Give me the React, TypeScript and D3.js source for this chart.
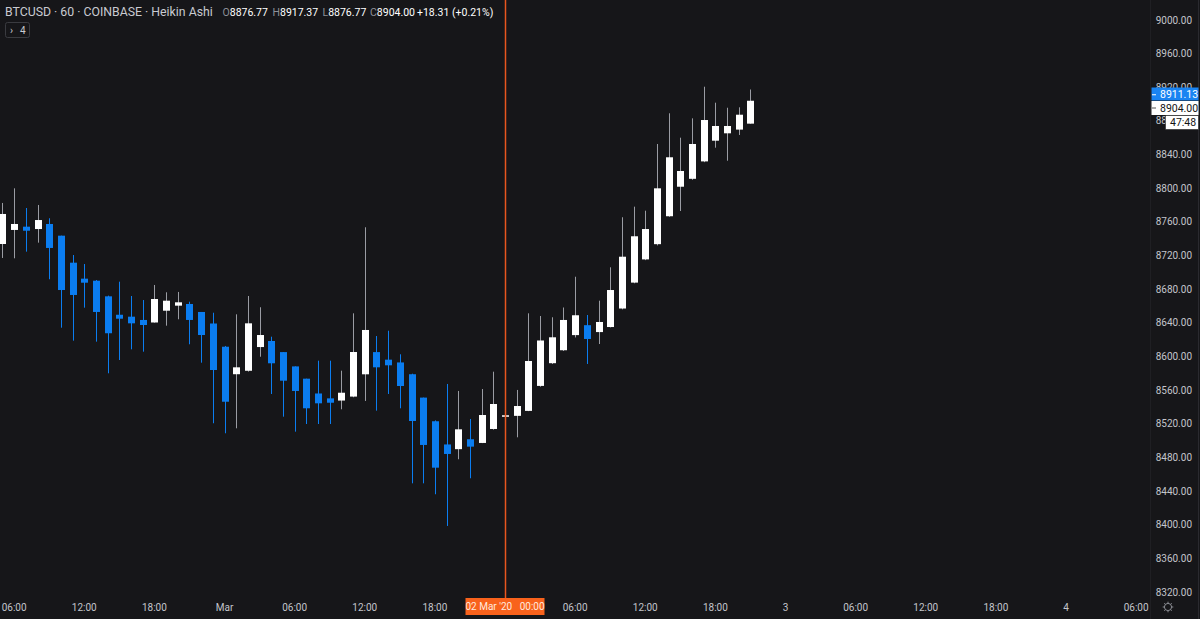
import React from "react";
import * as d3 from "d3";

const W = 1200;
const H = 619;

// Hourly Heikin Ashi candles, first candle = 29 Feb 2020 05:00 UTC
const firstCandle = Date.UTC(2020, 1, 29, 5);
const opens = [
  8733.7, 8750.4, 8754.3, 8751.5, 8757.5, 8743.6, 8711.5, 8692.5, 8690.1, 8671.5,
  8649.6, 8647.3, 8643.4, 8640.4, 8654.4, 8660.4, 8662.4, 8652.9, 8639.2, 8611.6,
  8578.9, 8583.0, 8611.2, 8618.4, 8605.2, 8588.2, 8573.6, 8556.0, 8550.2, 8547.6,
  8552.3, 8578.8, 8605.2, 8596.2, 8592.9, 8578.9, 8551.1, 8523.0, 8495.4, 8489.8,
  8501.6, 8497.2, 8513.8, 8528.6, 8529.4, 8535.3, 8565.0, 8592.0, 8607.4, 8625.4,
  8637.2, 8629.0, 8635.0, 8657.0, 8687.8, 8715.4, 8733.5, 8766.7, 8801.8, 8811.2,
  8831.9, 8856.5, 8865.3, 8869.7, 8876.77,
];
const highs = [
  8782.5, 8799.9, 8776.5, 8780.1, 8764.3, 8743.6, 8720.6, 8709.9, 8690.9, 8672.3,
  8688.9, 8671.9, 8667.1, 8685.0, 8676.3, 8676.7, 8665.1, 8652.9, 8652.0, 8612.5,
  8650.1, 8671.9, 8658.5, 8623.5, 8605.2, 8588.2, 8573.6, 8595.0, 8595.0, 8583.1,
  8651.3, 8753.6, 8624.3, 8630.6, 8602.6, 8579.5, 8551.1, 8524.0, 8567.3, 8559.0,
  8525.7, 8561.3, 8581.9, 8562.2, 8560.2, 8651.3, 8648.1, 8646.6, 8658.2, 8694.8,
  8649.3, 8666.3, 8706.0, 8765.5, 8778.1, 8773.3, 8852.6, 8889.1, 8860.1, 8883.1,
  8920.7, 8901.7, 8895.7, 8896.2, 8917.37,
];
const lows = [
  8717.1, 8716.7, 8724.6, 8735.3, 8691.8, 8634.2, 8618.8, 8658.0, 8617.6, 8580.0,
  8595.8, 8608.5, 8605.7, 8640.2, 8636.6, 8644.2, 8614.5, 8592.6, 8520.6, 8508.7,
  8514.6, 8582.0, 8599.7, 8555.4, 8528.4, 8510.6, 8519.7, 8519.7, 8519.7, 8537.2,
  8551.5, 8547.1, 8535.6, 8555.4, 8538.4, 8449.2, 8449.2, 8436.2, 8398.5, 8477.8,
  8455.2, 8497.0, 8513.0, 8488.0, 8503.9, 8535.0, 8564.0, 8591.0, 8606.5, 8622.6,
  8591.1, 8614.8, 8634.5, 8656.0, 8687.0, 8714.5, 8732.0, 8766.0, 8772.9, 8810.0,
  8831.0, 8848.2, 8832.7, 8863.3, 8876.77,
];
const closes = [
  8769.4, 8757.5, 8749.5, 8762.2, 8729.0, 8679.0, 8673.1, 8687.7, 8652.9, 8627.6,
  8644.9, 8639.4, 8637.4, 8668.3, 8666.3, 8664.4, 8643.4, 8625.5, 8583.9, 8546.2,
  8587.1, 8639.4, 8625.5, 8591.9, 8571.2, 8559.0, 8538.4, 8544.3, 8545.0, 8556.9,
  8605.3, 8631.5, 8587.1, 8589.5, 8564.9, 8523.3, 8494.8, 8467.8, 8484.1, 8513.4,
  8492.8, 8530.4, 8543.5, 8530.1, 8541.1, 8594.6, 8619.0, 8622.8, 8643.4, 8649.0,
  8620.8, 8641.0, 8679.0, 8718.6, 8742.9, 8751.5, 8799.9, 8836.8, 8820.5, 8852.6,
  8881.1, 8874.0, 8874.0, 8887.4, 8904.0,
];

const priceTicks = [8320, 8360, 8400, 8440, 8480, 8520, 8560, 8600, 8640, 8680, 8720, 8760, 8800, 8840, 8880, 8920, 8960, 9000];
const timeTicks = [
  "2020-02-29T06:00Z", "2020-02-29T12:00Z", "2020-02-29T18:00Z", "2020-03-01T00:00Z",
  "2020-03-01T06:00Z", "2020-03-01T12:00Z", "2020-03-01T18:00Z", "2020-03-02T00:00Z",
  "2020-03-02T06:00Z", "2020-03-02T12:00Z", "2020-03-02T18:00Z", "2020-03-03T00:00Z",
  "2020-03-03T06:00Z", "2020-03-03T12:00Z", "2020-03-03T18:00Z", "2020-03-04T00:00Z",
  "2020-03-04T06:00Z",
];
const timeTickLabels = ["06:00", "12:00", "18:00", "Mar", "06:00", "12:00", "18:00", "2", "06:00", "12:00", "18:00", "3", "06:00", "12:00", "18:00", "4", "06:00"];

const crosshairTime = "2020-03-02T00:00Z";
const crosshairLabel = "02 Mar '20   00:00";
const lastPrice = 8911.13;
const haClose = 8904.0;
const countdown = "47:48";
const headerTitle = "BTCUSD · 60 · COINBASE · Heikin Ashi";
const ohlcLabels = ["O", "H", "L", "C"];
const ohlcValues = ["8876.77", "8917.37", "8876.77", "8904.00"];
const changeText = "+18.31 (+0.21%)";

const BG = "#161619";
const UP = "#ffffff";
const UP_WICK = "#9a9ca3";
const DOWN = "#0b7df0";
const TEXT = "#c9cbd1";
const AXIS_TEXT = "#c3c5cb";
const CROSS = "#e8561f";
const FONT = "Roboto, 'Noto Sans', sans-serif";

export default function App() {
  const plotRight = 1150;
  const x = d3
    .scaleUtc()
    .domain([new Date(Date.UTC(2020, 2, 1)), new Date(Date.UTC(2020, 2, 2))])
    .range([224.5, 505]);
  const y = d3.scaleLinear().domain([8320, 9000]).range([592, 20]);

  const hour = 3600 * 1000;
  const candles = opens.map((o, i) => ({
    t: new Date(firstCandle + i * hour),
    o,
    h: highs[i],
    l: lows[i],
    c: closes[i],
  }));
  const bodyW = 7;
  const crossX = Math.round(x(new Date(crosshairTime))) + 0.5;
  const boxHalf = 40;

  const ohlcX = [222.5, 272.5, 322.5, 370];

  return (
    <svg width={W} height={H} style={{ display: "block", position: "absolute", left: 0, top: 0, background: BG }}>
      <rect x={0} y={0} width={W} height={H} fill={BG} />
      <defs>
        <clipPath id="plot">
          <rect x={0} y={0} width={plotRight} height={596} />
        </clipPath>
      </defs>

      {/* candles */}
      <g clipPath="url(#plot)">
        {candles.map((d, i) => {
          const cx = Math.round(x(d.t)) + 0.5;
          const up = d.c >= d.o;
          const top = y(Math.max(d.o, d.c));
          const bot = y(Math.min(d.o, d.c));
          return (
            <g key={i}>
              <line x1={cx} x2={cx} y1={y(d.h)} y2={y(d.l)} stroke={up ? UP_WICK : DOWN} strokeWidth={1} />
              <rect
                x={cx - bodyW / 2}
                y={top}
                width={bodyW}
                height={Math.max(1.5, bot - top)}
                fill={up ? UP : DOWN}
              />
            </g>
          );
        })}
      </g>

      {/* crosshair vertical */}
      <line x1={crossX} x2={crossX} y1={0} y2={598} stroke={CROSS} strokeWidth={1.5} />

      {/* price axis */}
      <line x1={plotRight + 0.5} x2={plotRight + 0.5} y1={0} y2={H} stroke="#1f1f23" />
      <line x1={1198.5} x2={1198.5} y1={0} y2={H} stroke="#2a2a2f" />
      {priceTicks.map((p) => (
        <text
          key={p}
          x={1192}
          y={y(p)}
          dy="0.35em"
          textAnchor="end"
          fontFamily={FONT}
          fontSize={10}
          fill={AXIS_TEXT}
        >
          {p.toFixed(2)}
        </text>
      ))}

      {/* last price boxes */}
      <g fontFamily={FONT} fontSize={10.5}>
        <rect x={1151.5} y={87.5} width={47} height={13} fill="#1a84f2" />
        <line x1={1152} x2={1156} y1={y(lastPrice)} y2={y(lastPrice)} stroke="#ffffff" />
        <text x={1160} y={94} dy="0.35em" fill="#ffffff">
          {lastPrice.toFixed(2)}
        </text>
        <rect x={1151.5} y={101} width={47} height={14} fill="#ffffff" />
        <line x1={1152} x2={1156} y1={108} y2={108} stroke="#555" />
        <text x={1160} y={108} dy="0.35em" fill="#131313">
          {haClose.toFixed(2)}
        </text>
        <rect x={1165.5} y={115.5} width={33} height={14} fill="#ffffff" stroke="#222" strokeWidth={0.6} />
        <text x={1170} y={122.5} dy="0.35em" fill="#131313">
          {countdown}
        </text>
      </g>

      {/* time axis (labels under the crosshair label box are hidden, as in the reference) */}
      {timeTicks.map((t, i) => {
        const tx = x(new Date(t));
        if (Math.abs(tx - crossX) < boxHalf) return null;
        return (
          <text
            key={t}
            x={tx}
            y={607}
            dy="0.35em"
            textAnchor="middle"
            fontFamily={FONT}
            fontSize={10}
            fill={AXIS_TEXT}
          >
            {timeTickLabels[i]}
          </text>
        );
      })}

      {/* crosshair time label */}
      <rect x={crossX - boxHalf} y={598} width={79} height={17} fill="#f8621c" />
      <text
        x={crossX - 0.5}
        y={606.5}
        dy="0.35em"
        textAnchor="middle"
        fontFamily={FONT}
        fontSize={10}
        fill="#ffe9df"
        style={{ whiteSpace: "pre" }}
      >
        {crosshairLabel}
      </text>

      {/* gear icon */}
      <g transform="translate(1168,607)" stroke="#8a8c93" fill="none" strokeWidth={1}>
        <circle r={3.6} />
        {d3.range(8).map((k) => {
          const a = (k * Math.PI) / 4;
          return (
            <line key={k} x1={Math.cos(a) * 3.6} y1={Math.sin(a) * 3.6} x2={Math.cos(a) * 5.3} y2={Math.sin(a) * 5.3} />
          );
        })}
      </g>

      {/* header */}
      <text x={5} y={16} fontFamily={FONT} fontSize={12.3} fill={TEXT}>
        {headerTitle}
      </text>
      {ohlcLabels.map((lab, i) => (
        <text key={lab} x={ohlcX[i]} y={16} fontFamily={FONT} fontSize={10.5} fill="#ffffff">
          <tspan fill="#8d9098">{lab}</tspan>
          <tspan>{ohlcValues[i]}</tspan>
        </text>
      ))}
      <text x={417} y={16} fontFamily={FONT} fontSize={10.5} fill="#ffffff" style={{ whiteSpace: "pre" }}>
        {changeText}
      </text>

      {/* collapsed indicators button */}
      <rect x={5.5} y={22.5} width={24} height={15} rx={2} fill="none" stroke="#3a3b40" />
      <text x={10} y={30} dy="0.35em" fontFamily={FONT} fontSize={10} fill={TEXT}>
        {"›"}
      </text>
      <text x={20} y={30} dy="0.35em" fontFamily={FONT} fontSize={10} fill={TEXT}>
        4
      </text>
    </svg>
  );
}
